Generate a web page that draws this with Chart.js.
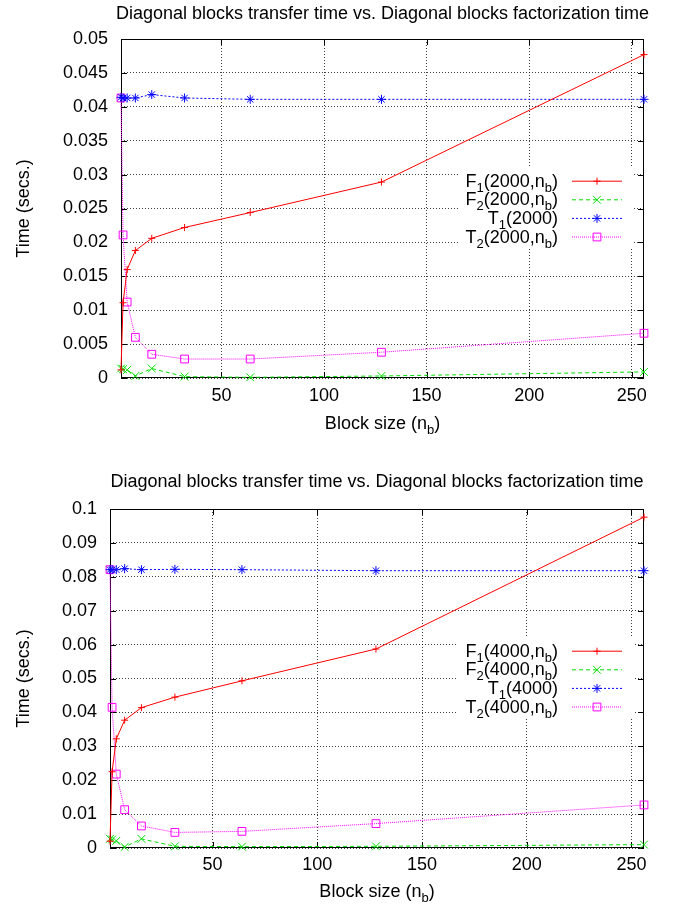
<!DOCTYPE html>
<html>
<head>
<meta charset="utf-8">
<script src="https://cdn.jsdelivr.net/npm/chart.js@4.4.0/dist/chart.umd.min.js"></script>
<style>
html, body { margin: 0; padding: 0; background: #fff; }
canvas { display: block; }
</style>
</head>
<body>
<canvas id="chart2000" width="674" height="452"></canvas>
<canvas id="chart4000" width="674" height="455"></canvas>
<script>
// Block sizes (x values) and x tick labels
const blockSizes = [1, 2, 4, 8, 16, 32, 64, 128, 256];
const xTickValues = [50, 100, 150, 200, 250];

// Matrix size 2000
const f1_2000 = [0.0012, 0.0111, 0.0160, 0.0188, 0.0206, 0.0222, 0.0244, 0.0289, 0.0477];
const f2_2000 = [0.0014, 0.0013, 0.0012, 0.0003, 0.0014, 0.0002, 0.0001, 0.0003, 0.0009];
const t1_2000 = [0.0414, 0.0413, 0.0413, 0.0413, 0.0418, 0.0413, 0.0411, 0.0411, 0.0411];
const t2_2000 = [0.0413, 0.0211, 0.0112, 0.0060, 0.0035, 0.0028, 0.0028, 0.0038, 0.0066];

// Matrix size 4000
const f1_4000 = [0.0020, 0.0225, 0.0322, 0.0377, 0.0414, 0.0445, 0.0493, 0.0587, 0.0976];
const f2_4000 = [0.0027, 0.0025, 0.0021, 0.0003, 0.0027, 0.0005, 0.0004, 0.0005, 0.0010];
const t1_4000 = [0.0821, 0.0821, 0.0821, 0.0824, 0.0821, 0.0822, 0.0821, 0.0818, 0.0818];
const t2_4000 = [0.0821, 0.0415, 0.0218, 0.0113, 0.0065, 0.0046, 0.0049, 0.0072, 0.0127];

// Legend names: letter, subscript, whether n_b is an argument
const seriesLetters = ['F', 'F', 'T', 'T'];
const seriesSubs = ['1', '2', '1', '2'];
const seriesHasNb = [true, true, false, true];

const chartTitle = 'Diagonal blocks transfer time vs. Diagonal blocks factorization time';

const FONT = "'Liberation Sans', Arial, Helvetica, sans-serif";
Chart.defaults.font.family = FONT;
Chart.defaults.font.size = 18;
Chart.defaults.color = '#000';

// Draw text with subscripts, parts = [{t, sub}]
function drawRich(ctx, parts, x, y, align) {
    const big = '18px ' + FONT, small = '13px ' + FONT;
    let total = 0;
    parts.forEach(p => { ctx.font = p.sub ? small : big; total += ctx.measureText(p.t).width; });
    let cx = align === 'right' ? x - total : (align === 'center' ? x - total / 2 : x);
    ctx.textAlign = 'left';
    ctx.textBaseline = 'alphabetic';
    parts.forEach(p => {
        ctx.font = p.sub ? small : big;
        ctx.fillText(p.t, cx, p.sub ? y + 5 : y);
        cx += ctx.measureText(p.t).width;
    });
}

function legendParts(i, n) {
    const parts = [{t: seriesLetters[i]}, {t: seriesSubs[i], sub: true}];
    if (seriesHasNb[i]) {
        parts.push({t: '(' + n + ',n'}, {t: 'b', sub: true}, {t: ')'});
    } else {
        parts.push({t: '(' + n + ')'});
    }
    return parts;
}

// gnuplot style frame, legend and titles
const gnuplotLook = {
    id: 'gnuplotLook',
    beforeDatasetsDraw(chart, args, opts) {
        const ctx = chart.ctx, a = chart.chartArea;
        const xs = chart.scales.x, ys = chart.scales.y;
        ctx.save();
        // legend box hides the grid
        ctx.fillStyle = '#fff';
        ctx.fillRect(a.right - 186, a.top + 128, 175, 80);
        // border
        ctx.strokeStyle = '#000';
        ctx.lineWidth = 1;
        ctx.setLineDash([]);
        ctx.strokeRect(a.left + 0.5, a.top + 0.5, a.right - a.left - 1, a.bottom - a.top - 1);
        // inward tick marks on all four sides
        ctx.beginPath();
        xs.ticks.forEach(t => {
            const px = Math.round(xs.getPixelForValue(t.value)) + 0.5;
            ctx.moveTo(px, a.bottom); ctx.lineTo(px, a.bottom - 6);
            ctx.moveTo(px, a.top); ctx.lineTo(px, a.top + 6);
        });
        ys.ticks.forEach(t => {
            const py = Math.round(ys.getPixelForValue(t.value)) + 0.5;
            ctx.moveTo(a.left, py); ctx.lineTo(a.left + 6, py);
            ctx.moveTo(a.right, py); ctx.lineTo(a.right - 6, py);
        });
        ctx.stroke();
        ctx.restore();
    },
    afterDraw(chart, args, opts) {
        const ctx = chart.ctx, a = chart.chartArea;
        ctx.save();
        ctx.fillStyle = '#000';
        // chart title
        drawRich(ctx, [{t: chartTitle}], (a.left + a.right) / 2, opts.titleY, 'center');
        // x axis title
        drawRich(ctx, [{t: 'Block size (n'}, {t: 'b', sub: true}, {t: ')'}], (a.left + a.right) / 2, opts.xTitleY, 'center');
        // y axis title
        ctx.save();
        ctx.translate(29, (a.top + a.bottom) / 2);
        ctx.rotate(-Math.PI / 2);
        drawRich(ctx, [{t: 'Time (secs.)'}], 0, 0, 'center');
        ctx.restore();
        // legend
        chart.data.datasets.forEach((ds, i) => {
            const rowY = a.top + 141.7 + i * 18.6;
            ctx.fillStyle = '#000';
            drawRich(ctx, legendParts(i, opts.n), a.right - 86, rowY + 6, 'right');
            ctx.strokeStyle = ds.borderColor;
            ctx.lineWidth = 1;
            ctx.setLineDash(ds.borderDash || []);
            ctx.beginPath();
            ctx.moveTo(a.right - 72, rowY + 0.5);
            ctx.lineTo(a.right - 22, rowY + 0.5);
            ctx.stroke();
            ctx.setLineDash([]);
            ctx.fillStyle = 'rgba(0,0,0,0)';
            Chart.helpers.drawPoint(ctx, {pointStyle: ds.pointStyle, radius: ds.pointRadius, borderWidth: 1, rotation: 0}, a.right - 47, rowY + 0.5);
        });
        ctx.restore();
    }
};

function makeDataset(label, data, color, dash, style, radius) {
    return {
        label: label,
        data: data.map((v, i) => ({x: blockSizes[i], y: v})),
        borderColor: color,
        backgroundColor: 'rgba(0,0,0,0)',
        borderWidth: 1,
        borderDash: dash,
        pointStyle: style,
        pointRadius: radius,
        pointBorderWidth: 1,
        pointBorderColor: color,
        pointBackgroundColor: 'rgba(0,0,0,0)',
        tension: 0,
        clip: false
    };
}

function makeChart(canvasId, n, f1, f2, t1, t2, yMax, yStep, frame) {
    const W = 674, H = document.getElementById(canvasId).height;
    return new Chart(document.getElementById(canvasId), {
        type: 'line',
        data: {
            datasets: [
                makeDataset('F1', f1, '#ff0000', [], 'cross', 3.5),
                makeDataset('F2', f2, '#00dd00', [4, 3], 'crossRot', 5.5),
                makeDataset('T1', t1, '#0000ff', [2, 2], 'star', 4.5),
                makeDataset('T2', t2, '#ff00ff', [1, 1], 'rect', 5.5)
            ]
        },
        options: {
            responsive: false,
            animation: false,
            events: [],
            layout: {padding: {left: 0, top: frame.top, right: W - frame.right, bottom: 0}},
            plugins: {
                legend: {display: false},
                tooltip: {enabled: false},
                title: {display: false},
                gnuplotLook: {n: n, titleY: frame.titleY, xTitleY: frame.xTitleY}
            },
            scales: {
                x: {
                    type: 'linear',
                    min: 1,
                    max: 256,
                    afterBuildTicks: scale => { scale.ticks = xTickValues.map(v => ({value: v})); },
                    afterFit: scale => { scale.height = H - frame.bottom; },
                    ticks: {padding: frame.xPad, color: '#000', font: {size: 18}},
                    grid: {color: 'rgba(0,0,0,0.75)', lineWidth: 1, drawTicks: false},
                    border: {display: false, dash: [1, 2]}
                },
                y: {
                    min: 0,
                    max: yMax,
                    afterFit: scale => { scale.width = frame.left; },
                    ticks: {
                        stepSize: yStep,
                        padding: 13,
                        color: '#000',
                        font: {size: 18},
                        callback: v => parseFloat(v.toFixed(4)).toString()
                    },
                    grid: {color: 'rgba(0,0,0,0.75)', lineWidth: 1, drawTicks: false},
                    border: {display: false, dash: [1, 2]}
                }
            }
        },
        plugins: [gnuplotLook]
    });
}

makeChart('chart2000', 2000, f1_2000, f2_2000, t1_2000, t2_2000, 0.05, 0.005,
    {left: 121, right: 644, top: 39, bottom: 378, titleY: 19, xTitleY: 429, xPad: 7});
makeChart('chart4000', 4000, f1_4000, f2_4000, t1_4000, t2_4000, 0.1, 0.01,
    {left: 110, right: 644, top: 57, bottom: 396, titleY: 35, xTitleY: 445, xPad: 6});
</script>
</body>
</html>
